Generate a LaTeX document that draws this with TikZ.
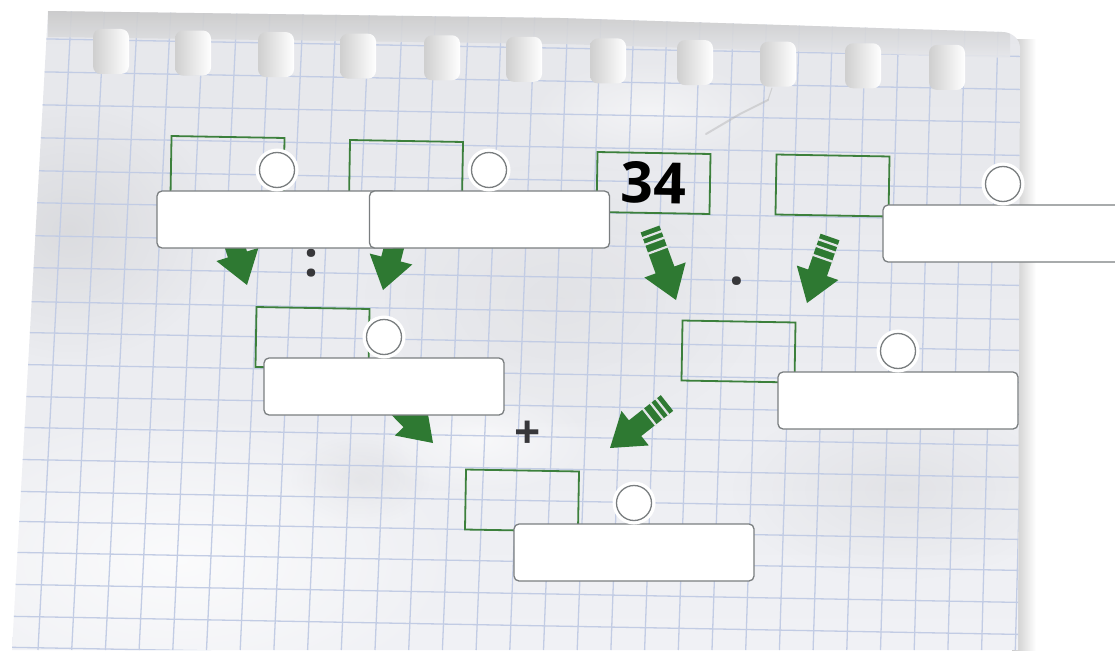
\documentclass[tikz,border=0pt]{standalone}
\usepackage{fontspec}
\newfontfamily\opensans{Open Sans}
\usetikzlibrary{calc,fadings,shadings}
\definecolor{arrowgreen}{RGB}{46,121,50}
\definecolor{boxgreen}{RGB}{60,128,60}
\definecolor{inputgray}{RGB}{122,126,128}
\definecolor{gridblue}{RGB}{194,204,228}
\definecolor{opgray}{RGB}{55,55,58}
\definecolor{paper}{RGB}{230,231,235}
\definecolor{paperlow}{RGB}{240,241,245}
\definecolor{stripe}{RGB}{226,228,231}
\tikzfading[name=fuzzy, inner color=transparent!0, outer color=transparent!100]

\newcommand{\greenarrow}[3]{%
  \coordinate (ah) at ($(#2)!32pt!(#1)$);
  \fill[arrowgreen] (#2) -- ($(ah)!22pt!90:(#2)$) -- ($(ah)!10pt!90:(#2)$)
     -- ($(#1)!10pt!90:(#2)$) -- ($(#1)!10pt!-90:(#2)$)
     -- ($(ah)!10pt!-90:(#2)$) -- ($(ah)!22pt!-90:(#2)$) -- cycle;
  \ifnum#3=1
    \foreach \d in {6pt,13pt,22.5pt}{%
      \coordinate (as) at ($(#1)!\d!(#2)$);
      \draw[stripe, line width=2.2pt] ($(as)!11.5pt!90:(#2)$) -- ($(as)!11.5pt!-90:(#2)$);
    }%
  \fi}

\begin{document}
\begin{tikzpicture}[x=1pt,y=-1pt,
  gbox/.style={draw=boxgreen, line width=1.8pt, minimum width=113pt, minimum height=60pt, rotate=-1, inner sep=0pt},
  inbox/.style={draw=inputgray, fill=white, line width=1.3pt, rounded corners=5pt, minimum width=240pt, minimum height=57pt, inner sep=0pt},
  slot/.style={circle, draw=inputgray, fill=white, line width=1.3pt, minimum size=35pt, inner sep=0pt, preaction={draw=white, line width=8pt}},
  op/.style={text=opgray, inner sep=0pt},
  gridline/.style={draw=gridblue, line width=1.3pt}]
\useasboundingbox (0,0) rectangle (1115,650);

% shadow to the right of the sheet
\shade[left color=gray!45, right color=white] (1012,40) rectangle (1036,650);

% sheet
\def\sheet{(48,11) -- (560,18) -- (1002,32) to[out=0,in=90] (1020,48) -- (1018,650) -- (12,650) -- cycle}
\shade[top color=paper, bottom color=paperlow] \sheet;
\begin{scope}
  \clip \sheet;
  % creases and light areas
  \fill[gray, opacity=.14, path fading=fuzzy] (70,230) ellipse (150 and 130);
  \fill[gray, opacity=.10, path fading=fuzzy] (900,490) ellipse (170 and 90);
  \fill[gray, opacity=.10, path fading=fuzzy] (360,480) ellipse (70 and 45);
  \fill[gray, opacity=.08, path fading=fuzzy] (560,300) ellipse (200 and 140);
  \fill[white, opacity=.75, path fading=fuzzy] (180,560) ellipse (280 and 150);
  \fill[white, opacity=.6, path fading=fuzzy] (480,440) ellipse (110 and 55);
  \fill[white, opacity=.5, path fading=fuzzy] (650,110) ellipse (120 and 50);
  % grid
  \foreach \k in {-2,...,30}
    \draw[gridline] ({72+33.1*\k},0) -- ({38+33.7*\k},650);
  \foreach \yy in {39,72,105,138,171,203,236,268,302,333,365,397,428,460,492,522,553,585,617,648}
    \draw[gridline] (0,{\yy-0.9}) -- (1030,{\yy+17.6});
  % torn strip at the top
  \shade[top color=gray!42, bottom color=paper, opacity=.9]
    (48,11) -- (560,18) -- (1010,32) -- (1010,58) -- (560,44) -- (48,37) -- cycle;
  % crease near the top
  \draw[gray!60, line width=2pt, opacity=.45, line cap=round] (706,134) -- (740,114) -- (768,100);
  \draw[gray!60, line width=1pt, opacity=.45, line cap=round] (768,100) -- (772,88);
\end{scope}
% punched holes
\foreach \hx in {111,193,276,358,442,524,608,695,778,863,947}{
  \pgfmathsetmacro{\hy}{29+(\hx-111)*0.019}
  \shade[left color=gray!38, right color=white, rounded corners=8pt]
    ({\hx-18},\hy) rectangle ({\hx+18},{\hy+45});
}

% green boxes
\node[gbox] (g1) at (227.5,167) {};
\node[gbox] (g2) at (406,171) {};
\node[gbox, font=\opensans\bfseries\fontsize{57}{60}\selectfont] (g3) at (653.5,183) {34};
\node[gbox] (g4) at (832.5,185.5) {};
\node[gbox] (g5) at (312.5,338) {};
\node[gbox] (g6) at (738.5,351.5) {};
\node[gbox] (g7) at (522,500.5) {};

% arrows
\coordinate (a1s) at (226,218);   \coordinate (a1t) at (247,285);
\coordinate (a2s) at (400.5,222); \coordinate (a2t) at (383,290);
\coordinate (a3s) at (650,229);   \coordinate (a3t) at (676,300);
\coordinate (a4s) at (830,237);   \coordinate (a4t) at (807,303);
\coordinate (a5s) at (384,393);   \coordinate (a5t) at (433,443);
\coordinate (a6s) at (667,403);   \coordinate (a6t) at (610,448);
\greenarrow{a1s}{a1t}{0}
\greenarrow{a2s}{a2t}{0}
\greenarrow{a3s}{a3t}{1}
\greenarrow{a4s}{a4t}{1}
\greenarrow{a5s}{a5t}{0}
\greenarrow{a6s}{a6t}{1}

% operators
\node[op, font=\opensans\bfseries\fontsize{49}{50}\selectfont] (colon) at (311,263.5) {:};
\node[op, font=\opensans\bfseries\fontsize{52}{54}\selectfont, anchor=base] (dot) at (737,299) {·};
\node[op, font=\opensans\bfseries\fontsize{46}{48}\selectfont, anchor=base] (plus) at (528,448) {+};

% answer fields
\node[inbox] (f1) at (277,219.5) {};
\node[inbox] (f2) at (489.5,219.5) {};
\node[inbox] (f3) at (1003,233.5) {};
\node[inbox] (f4) at (384,386.5) {};
\node[inbox] (f5) at (898,400.5) {};
\node[inbox] (f6) at (634,552.5) {};

% small circles
\node[slot] (c1) at (277,170) {};
\node[slot] (c2) at (489,170) {};
\node[slot] (c3) at (1003,184) {};
\node[slot] (c4) at (384,337) {};
\node[slot] (c5) at (898,351) {};
\node[slot] (c6) at (634,503) {};
\end{tikzpicture}
\end{document}
